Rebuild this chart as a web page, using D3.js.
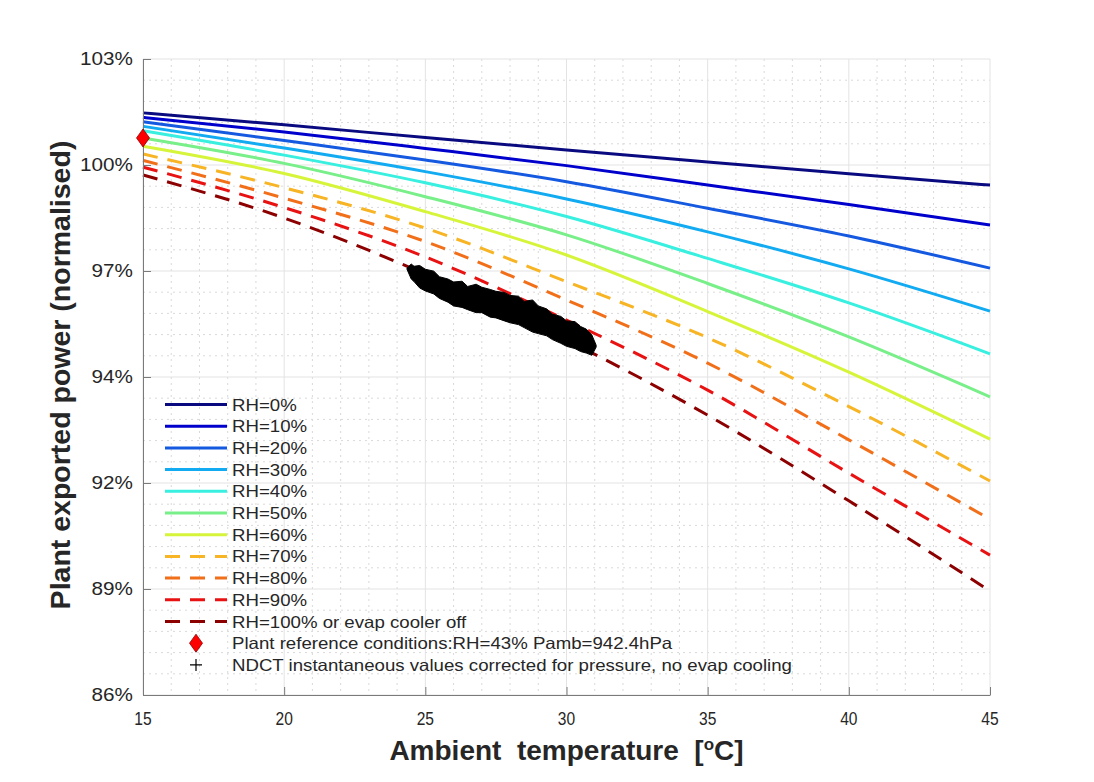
<!DOCTYPE html>
<html>
<head>
<meta charset="utf-8">
<script src="https://cdn.jsdelivr.net/npm/d3@7"></script>
<style>
  body { margin: 0; background: #fff; }
  text { font-family: 'Liberation Sans', Arial, sans-serif; fill: #262626; }
</style>
</head>
<body>
<svg id="chart"></svg>
<script>
// ambient temperature samples the curves were read at
const temps = [15, 20, 25, 30, 35, 40, 45];

// normalised exported power per relative humidity
const rh0   = [1.0156, 1.0124, 1.0090, 1.0057, 1.0025, 0.9993, 0.9963];
const rh10  = [1.0144, 1.0105, 1.0061, 1.0015, 0.9963, 0.9911, 0.9856];
const rh20  = [1.0132, 1.0082, 1.0030, 0.9972, 0.9901, 0.9827, 0.9741];
const rh30  = [1.0120, 1.0062, 0.9999, 0.9926, 0.9838, 0.9739, 0.9626];
const rh40  = [1.0108, 1.0043, 0.9969, 0.9879, 0.9767, 0.9648, 0.9512];
const rh50  = [1.0089, 1.0021, 0.9932, 0.9830, 0.9700, 0.9557, 0.9397];
const rh60  = [1.0067, 0.9994, 0.9892, 0.9776, 0.9625, 0.9463, 0.9284];
const rh70  = [1.0046, 0.9956, 0.9848, 0.9705, 0.9555, 0.9371, 0.9172];
const rh80  = [1.0029, 0.9928, 0.9812, 0.9656, 0.9487, 0.9282, 0.9070];
const rh90  = [1.0011, 0.9903, 0.9771, 0.9602, 0.9415, 0.9193, 0.8974];
const rh100 = [0.9990, 0.9875, 0.9725, 0.9549, 0.9348, 0.9119, 0.8878];

const rhNames = ["RH=0%", "RH=10%", "RH=20%", "RH=30%", "RH=40%", "RH=50%",
                 "RH=60%", "RH=70%", "RH=80%", "RH=90%", "RH=100% or evap cooler off"];
const rhColors = ["#0a0a80", "#0000cc", "#1559e0", "#12aaf0", "#38efe0", "#78ef88",
                  "#d6f53a", "#f7b424", "#f26f1a", "#e81212", "#8c0000"];
const rhDashed = [false, false, false, false, false, false, false, true, true, true, true];

// plant reference point
const refTemp = [15];
const refPower = [1.0089];
const refName = "Plant reference conditions:RH=43% Pamb=942.4hPa";

// NDCT cloud, upper and lower edge
const ndctTemp  = [24.35, 24.5, 24.6, 24.8, 25.0, 25.3, 25.5, 25.8, 26.0, 26.3, 26.5, 26.8, 27.0, 27.3, 27.5, 27.8, 28.0, 28.3, 28.5, 28.8, 29.0, 29.3, 29.5, 29.8, 30.0, 30.3, 30.5, 30.7, 30.9, 31.05];
const ndctUpper = [0.9741, 0.9752, 0.9746, 0.9748, 0.9738, 0.9733, 0.9718, 0.9712, 0.9704, 0.9706, 0.9692, 0.9698, 0.9690, 0.9684, 0.9679, 0.9676, 0.9668, 0.9666, 0.9652, 0.9656, 0.9640, 0.9632, 0.9618, 0.9612, 0.9600, 0.9598, 0.9585, 0.9578, 0.9562, 0.9535];
const ndctLower = [0.9738, 0.9712, 0.9705, 0.9688, 0.9680, 0.9672, 0.9660, 0.9650, 0.9640, 0.9636, 0.9630, 0.9622, 0.9622, 0.9610, 0.9608, 0.9600, 0.9595, 0.9590, 0.9582, 0.9570, 0.9566, 0.9560, 0.9550, 0.9540, 0.9532, 0.9526, 0.9518, 0.9514, 0.9508, 0.9530];
const ndctName = "NDCT instantaneous values corrected for pressure, no evap cooling";

const xTicks = [15, 20, 25, 30, 35, 40, 45];
const yTickLabels = ["86%", "89%", "92%", "94%", "97%", "100%", "103%"];

const svgWidth = 1094;
const svgHeight = 782;
const margin = { top: 59, right: 104, bottom: 87, left: 143 };
const width = svgWidth - margin.left - margin.right;
const height = svgHeight - margin.top - margin.bottom;

const svg = d3.select("#chart")
    .attr("width", svgWidth)
    .attr("height", svgHeight);

const g = svg.append("g")
    .attr("transform", `translate(${margin.left}, ${margin.top})`);

const xScale = d3.scaleLinear().domain([15, 45]).range([0, width]);
const yScale = d3.scaleLinear().domain([0.86, 1.03]).range([height, 0]);

const yTicks = d3.range(yTickLabels.length).map(i => 0.86 + i * (1.03 - 0.86) / (yTickLabels.length - 1));
const xMinor = d3.range(15, 45.001, 1).filter(v => v % 5 !== 0);
const yMinor = d3.range(0, 31).filter(i => i % 5 !== 0).map(i => 0.86 + i * (1.03 - 0.86) / 30);

// minor grid (dotted)
g.append("g").selectAll("line").data(xMinor).enter().append("line")
    .attr("x1", d => xScale(d)).attr("x2", d => xScale(d))
    .attr("y1", 0).attr("y2", height)
    .attr("stroke", "#d9d9d9").attr("stroke-dasharray", "2,4");
g.append("g").selectAll("line").data(yMinor).enter().append("line")
    .attr("y1", d => yScale(d)).attr("y2", d => yScale(d))
    .attr("x1", 0).attr("x2", width)
    .attr("stroke", "#d9d9d9").attr("stroke-dasharray", "2,4");

// major grid
g.append("g").selectAll("line").data(xTicks).enter().append("line")
    .attr("x1", d => xScale(d)).attr("x2", d => xScale(d))
    .attr("y1", 0).attr("y2", height)
    .attr("stroke", "#e3e3e3");
g.append("g").selectAll("line").data(yTicks).enter().append("line")
    .attr("y1", d => yScale(d)).attr("y2", d => yScale(d))
    .attr("x1", 0).attr("x2", width)
    .attr("stroke", "#e3e3e3");

// RH curves
const series = [rh0, rh10, rh20, rh30, rh40, rh50, rh60, rh70, rh80, rh90, rh100].map((vals, i) => ({
    name: rhNames[i],
    color: rhColors[i],
    dashed: rhDashed[i],
    points: temps.map((t, j) => ({ t: t, v: vals[j] }))
}));

const line = d3.line()
    .x(d => xScale(d.t))
    .y(d => yScale(d.v))
    .curve(d3.curveMonotoneX);

g.append("g").selectAll("path").data(series).enter().append("path")
    .attr("d", d => line(d.points))
    .attr("fill", "none")
    .attr("stroke", d => d.color)
    .attr("stroke-width", 3)
    .attr("stroke-dasharray", d => d.dashed ? "15,10" : null);

// NDCT cloud
const ndct = ndctTemp.map((t, i) => ({ t: t, hi: ndctUpper[i], lo: ndctLower[i] }));
const area = d3.area()
    .x(d => xScale(d.t))
    .y0(d => yScale(d.lo))
    .y1(d => yScale(d.hi));
g.append("path")
    .attr("d", area(ndct))
    .attr("fill", "#000")
    .attr("stroke", "#000")
    .attr("stroke-width", 1)
    .attr("stroke-linejoin", "miter");

// axes (ticks pointing inward)
g.append("g")
    .attr("transform", `translate(0, ${height})`)
    .call(d3.axisBottom(xScale).tickValues(xTicks).tickSizeInner(-8).tickSizeOuter(0).tickFormat(""))
    .call(a => a.selectAll("line, path").attr("stroke", "#7a7a7a"));
g.append("g")
    .call(d3.axisLeft(yScale).tickValues(yTicks).tickSizeInner(-8).tickSizeOuter(0).tickFormat(""))
    .call(a => a.selectAll("line, path").attr("stroke", "#7a7a7a"));

// tick labels
g.append("g").selectAll("text").data(xTicks).enter().append("text")
    .attr("transform", d => `translate(${xScale(d)}, ${height + 30}) scale(0.82, 1)`)
    .attr("text-anchor", "middle")
    .style("font-size", "19px")
    .text(d => d);

g.append("g").selectAll("text").data(yTicks).enter().append("text")
    .attr("transform", d => `translate(-10, ${yScale(d) + 6}) scale(1.15, 1)`)
    .attr("text-anchor", "end")
    .style("font-size", "18px")
    .text((d, i) => yTickLabels[i]);

// axis titles
const xTitle = svg.append("text")
    .attr("transform", `translate(${margin.left + width / 2}, 760)`)
    .attr("text-anchor", "middle")
    .style("font-size", "28px")
    .style("font-weight", "bold")
    .style("white-space", "pre");
xTitle.append("tspan").text("Ambient  temperature  [");
xTitle.append("tspan").attr("dy", -10).style("font-size", "17px").text("o");
xTitle.append("tspan").attr("dy", 10).text("C]");

svg.append("text")
    .attr("transform", `translate(70, ${margin.top + height / 2 - 2}) rotate(-90)`)
    .attr("text-anchor", "middle")
    .style("font-size", "28.5px")
    .style("font-weight", "bold")
    .text("Plant exported power (normalised)");

// reference diamond
const diamond = "M0,-9 L6.5,0 L0,9 L-6.5,0 Z";
g.append("g").selectAll("path").data(refTemp).enter().append("path")
    .attr("transform", (d, i) => `translate(${xScale(d)}, ${yScale(refPower[i])})`)
    .attr("d", diamond)
    .attr("fill", "#ff0000")
    .attr("stroke", "#8a0000")
    .attr("stroke-width", 0.8);

// legend
const legend = svg.append("g").attr("transform", "translate(165, 404.5)");
const rowStep = 21.7;
const legendText = (sel, y, txt) => sel.append("text")
    .attr("transform", `translate(67, ${y + 6}) scale(1.13, 1)`)
    .style("font-size", "16.5px")
    .text(txt);

series.forEach((s, i) => {
    legend.append("line")
        .attr("x1", 0).attr("x2", 62)
        .attr("y1", i * rowStep).attr("y2", i * rowStep)
        .attr("stroke", s.color)
        .attr("stroke-width", 3)
        .attr("stroke-dasharray", s.dashed ? "15,10" : null);
    legendText(legend, i * rowStep, s.name);
});

const refRow = series.length * rowStep;
legend.append("path")
    .attr("transform", `translate(31, ${refRow})`)
    .attr("d", diamond)
    .attr("fill", "#ff0000")
    .attr("stroke", "#8a0000")
    .attr("stroke-width", 0.8);
legendText(legend, refRow, refName);

const ndctRow = (series.length + 1) * rowStep;
legend.append("path")
    .attr("transform", `translate(31, ${ndctRow})`)
    .attr("d", "M-6,0 H6 M0,-6 V6")
    .attr("stroke", "#000")
    .attr("stroke-width", 1.2);
legendText(legend, ndctRow, ndctName);
</script>
</body>
</html>
